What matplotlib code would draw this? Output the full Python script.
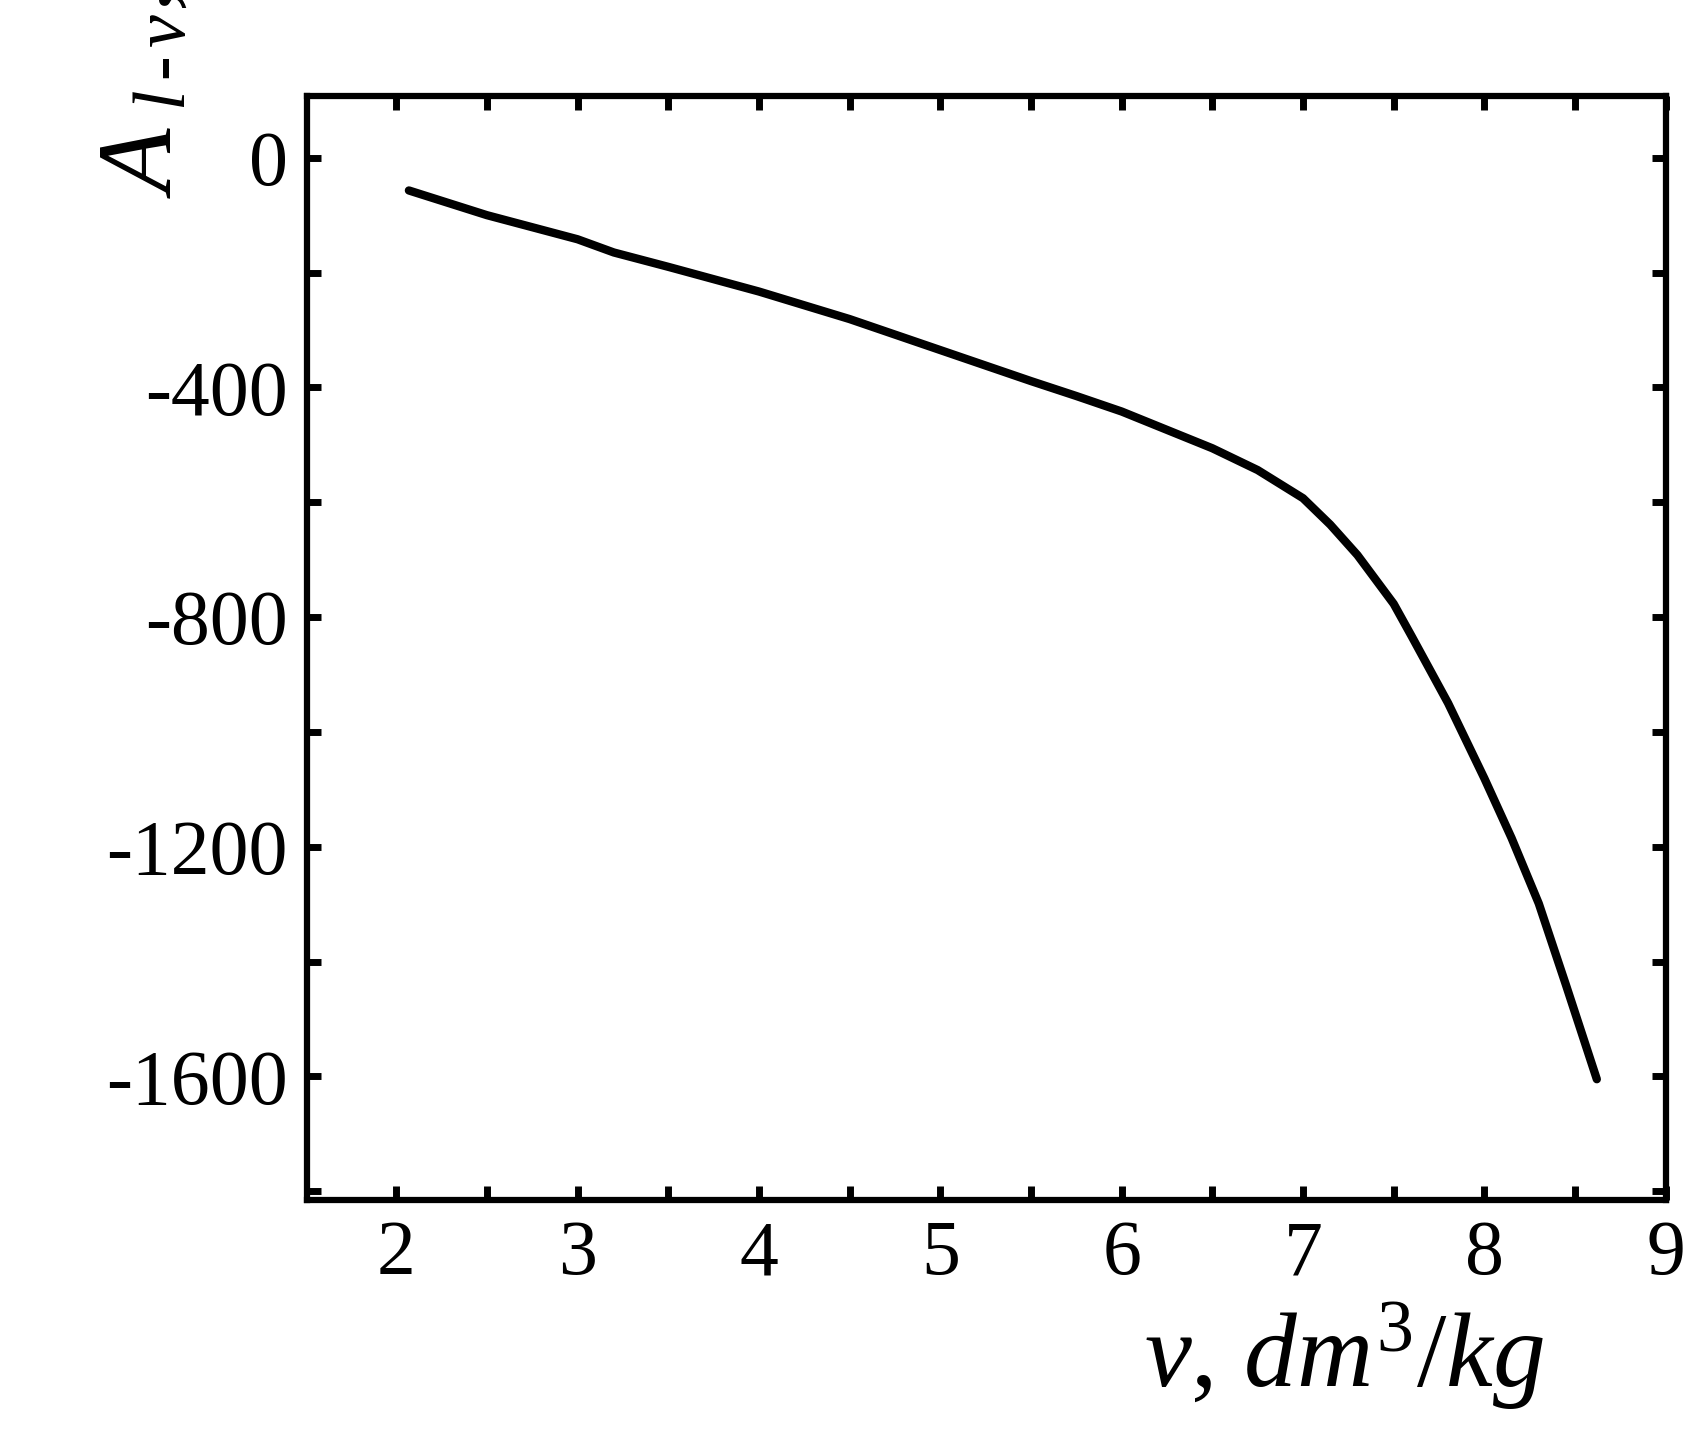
import matplotlib.pyplot as plt
from matplotlib.ticker import MultipleLocator

plt.rcParams['font.family'] = 'Liberation Serif'
plt.rcParams['mathtext.fontset'] = 'custom'
plt.rcParams['mathtext.it'] = 'Liberation Serif:italic'
plt.rcParams['mathtext.rm'] = 'Liberation Serif'
plt.rcParams['axes.unicode_minus'] = False

# values
volume = [2.07, 2.5, 3.0, 3.2, 3.5, 4.0, 4.5, 5.0, 5.5, 5.75, 6.0, 6.5, 6.75, 7.0, 7.15,
          7.3, 7.5, 7.6, 7.8, 8.0, 8.15, 8.3, 8.45, 8.62]
a_lv = [-57, -100, -142, -165, -190, -233, -281, -335, -389, -415, -442, -506, -544, -593, -639,
        -692, -777, -834, -950, -1081, -1185, -1299, -1441, -1605]

fig = plt.figure(figsize=(16.98, 14.29), dpi=100)
ax = fig.add_axes([0.181, 0.160, 0.800, 0.773])
ax.plot(volume, a_lv, color='black', lw=6, solid_capstyle='round')

ax.set_xlim(1.51, 9.0)
ax.set_ylim(-1816, 108)
ax.xaxis.set_major_locator(MultipleLocator(1))
ax.xaxis.set_minor_locator(MultipleLocator(0.5))
ax.yaxis.set_major_locator(MultipleLocator(400))
ax.yaxis.set_minor_locator(MultipleLocator(200))
ax.tick_params(which='both', direction='in', top=True, right=True, width=5, length=10, labelsize=56, pad=14)
for s in ax.spines.values():
    s.set_linewidth(4.5)

ax.set_xlabel(r'$v$, $dm^3/kg$', fontsize=76)
ax.xaxis.set_label_coords(0.91, -0.09, transform=ax.transAxes)
ax.xaxis.label.set_horizontalalignment('right')
ax.set_ylabel(r'$A_{\ l\,\text{-}\,v}$, $K$', fontsize=76)
ax.yaxis.set_label_coords(-0.155, 1.05, transform=ax.transAxes)
ax.yaxis.label.set_verticalalignment('top')

fig.savefig('out.png')
